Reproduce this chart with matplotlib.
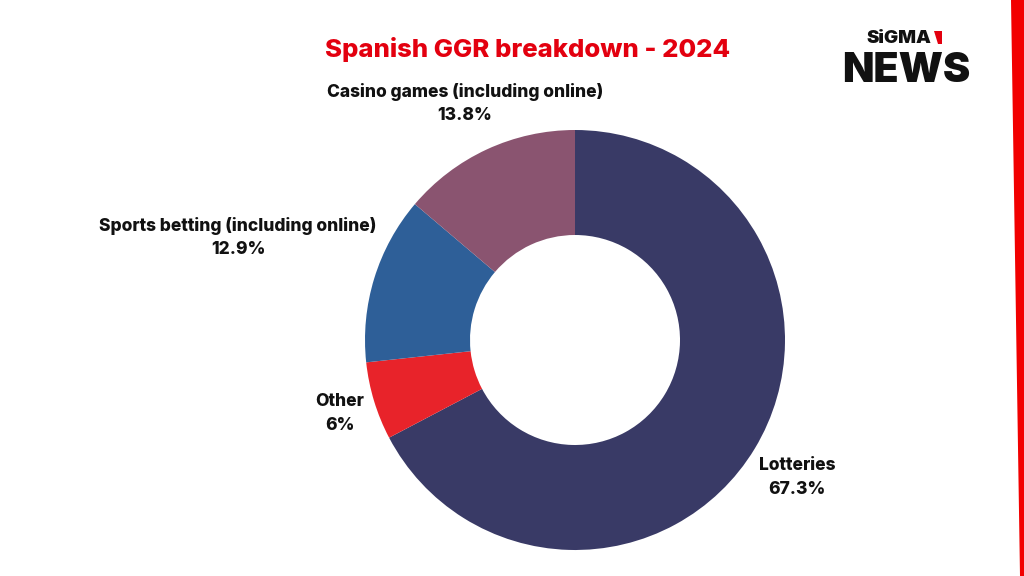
### Spanish GGR breakdown 2024 - donut chart ###
import matplotlib
matplotlib.use('Agg')
import matplotlib.pyplot as plt
from matplotlib.patches import Polygon

### data ###
segments = ['Lotteries', 'Other', 'Sports betting (including online)', 'Casino games (including online)']
shares = [67.3, 6, 12.9, 13.8]
share_labels = ['67.3%', '6%', '12.9%', '13.8%']
colours = ['#393a66', '#e8232a', '#2e5f98', '#8a5470']

plt.rcParams['font.family'] = ['Inter', 'DejaVu Sans']

fig = plt.figure(figsize=(10.24, 5.76), dpi=100)
ax = fig.add_axes([0, 0, 1, 1])

# pixel-like coords, y measured from bottom
ax.pie(shares, colors=colours, startangle=90, counterclock=False,
       radius=210, center=(575, 576 - 340),
       wedgeprops=dict(width=105, linewidth=0))
ax.set_xlim(0, 1024)
ax.set_ylim(0, 576)
ax.set_aspect('equal')
ax.axis('off')

# label positions (px, from top) - where each label sits in the picture
label_pos = {
    'Lotteries': (797, 465),
    'Other': (340, 402),
    'Sports betting (including online)': (238, 226),
    'Casino games (including online)': (465, 92),
}
for name, pct in zip(segments, share_labels):
    x, y = label_pos[name]
    ax.text(x, 576 - y, name, ha='center', va='center', fontsize=12.5, fontweight='heavy', color='#111111')
    ax.text(x, 576 - y - 24, pct, ha='center', va='center', fontsize=12.5, fontweight='heavy', color='#111111')

# title
ax.text(528, 576 - 49, 'Spanish GGR breakdown - 2024', ha='center', va='center',
        fontsize=18.5, fontweight='heavy', color='#e3000f')

# logo
ax.text(899, 576 - 43, 'SiGMA', ha='center', va='baseline', fontsize=13.5, fontweight='black', color='#111111')
ax.add_patch(Polygon([(934, 576 - 31), (942, 576 - 31), (942, 576 - 44), (938, 576 - 44)],
                     closed=True, color='#e3000f', lw=0))
ax.text(906, 576 - 82, 'NEWS', ha='center', va='baseline', fontsize=29.5, fontweight='black', color='#111111')

# red edge stripe on the right
ax.add_patch(Polygon([(1011, 576), (1024, 576), (1024, 0), (1020, 0)], closed=True, color='#f20000', lw=0))

fig.savefig('out.png', dpi=100)
